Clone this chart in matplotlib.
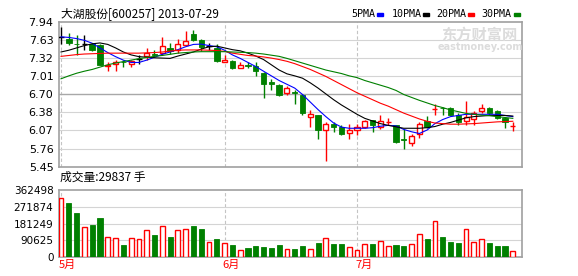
import matplotlib
matplotlib.use('Agg')
import matplotlib.pyplot as plt
import matplotlib.transforms as mtransforms
from matplotlib.patches import Rectangle
import numpy as np

CJK = ['Noto Sans CJK SC', 'DejaVu Sans']

title = '大湖股份[600257] 2013-07-29'
vol_title = '成交量:29837 手'

# daily candles, 2013-05-02 .. 2013-07-29
opens = [7.67, 7.65, 7.56, 7.56, 7.55, 7.54, 7.18, 7.22, 7.25, 7.21,
         7.30, 7.345, 7.385, 7.40, 7.49, 7.455, 7.54, 7.725, 7.63, 7.52,
         7.48, 7.24, 7.27, 7.14, 7.19, 7.18, 7.06, 6.91, 6.85, 6.72,
         6.74, 6.68, 6.30, 6.34, 6.08, 6.18, 6.14, 6.025, 6.08, 6.125,
         6.25, 6.125, 6.215, 6.17, 5.92, 5.85, 6.01, 6.235, 6.435, 6.465,
         6.45, 6.34, 6.235, 6.265, 6.405, 6.45, 6.40, 6.28, 6.15]
closes = [7.67, 7.58, 7.55, 7.56, 7.45, 7.19, 7.19, 7.24, 7.24, 7.26,
          7.30, 7.41, 7.375, 7.52, 7.43, 7.555, 7.60, 7.63, 7.50, 7.52,
          7.27, 7.28, 7.15, 7.19, 7.185, 7.10, 6.87, 6.865, 6.68, 6.80,
          6.72, 6.38, 6.355, 6.08, 6.18, 6.14, 6.02, 6.075, 6.125, 6.24,
          6.17, 6.24, 6.225, 5.88, 5.91, 5.98, 6.175, 6.14, 6.445, 6.455,
          6.34, 6.22, 6.31, 6.375, 6.46, 6.365, 6.28, 6.22, 6.155]
highs = [7.85, 7.75, 7.71, 7.71, 7.57, 7.56, 7.24, 7.28, 7.28, 7.28,
         7.36, 7.49, 7.45, 7.68, 7.58, 7.65, 7.78, 7.79, 7.64, 7.58,
         7.56, 7.37, 7.28, 7.24, 7.24, 7.24, 7.07, 6.96, 6.87, 6.83,
         6.76, 6.69, 6.42, 6.34, 6.22, 6.21, 6.17, 6.18, 6.18, 6.26,
         6.25, 6.34, 6.29, 6.17, 6.10, 6.01, 6.22, 6.32, 6.52, 6.47,
         6.47, 6.38, 6.58, 6.40, 6.52, 6.48, 6.42, 6.31, 6.22]
lows = [7.56, 7.54, 7.37, 7.46, 7.43, 7.19, 7.10, 7.10, 7.16, 7.16,
        7.22, 7.29, 7.33, 7.36, 7.39, 7.40, 7.54, 7.60, 7.43, 7.45,
        7.24, 7.24, 7.13, 7.14, 7.14, 7.00, 6.63, 6.77, 6.67, 6.68,
        6.53, 6.33, 6.14, 5.93, 5.55, 6.04, 6.00, 5.93, 6.00, 6.11,
        6.05, 6.09, 6.17, 5.86, 5.75, 5.81, 5.95, 6.12, 6.34, 6.34,
        6.33, 6.17, 6.17, 6.17, 6.37, 6.34, 6.27, 6.12, 6.06]
volumes = [317600, 292000, 238000, 161000, 173000, 211000, 107000, 101000, 65000, 101000,
           95000, 146000, 119000, 169000, 108000, 144000, 150000, 168000, 151000, 80000,
           97000, 74000, 65000, 36000, 49000, 60000, 54000, 49000, 65000, 43000,
           43000, 60000, 43000, 76000, 101000, 70000, 70000, 54000, 38000, 70000,
           70000, 87000, 60000, 65000, 60000, 70000, 124000, 97000, 195000, 108000,
           81000, 76000, 151000, 81000, 97000, 76000, 60000, 60000, 29837]

ma5 = [7.68, 7.67, 7.65, 7.62, 7.57, 7.49, 7.41, 7.34, 7.28, 7.24,
       7.24, 7.28, 7.33, 7.38, 7.42, 7.46, 7.51, 7.55, 7.555, 7.53,
       7.51, 7.45, 7.37, 7.31, 7.24, 7.17, 7.09, 7.01, 6.93, 6.865,
       6.80, 6.69, 6.56, 6.43, 6.31, 6.20, 6.13, 6.11, 6.11, 6.11,
       6.12, 6.145, 6.16, 6.15, 6.09, 6.05, 6.02, 6.08, 6.19, 6.26,
       6.31, 6.33, 6.35, 6.35, 6.35, 6.35, 6.35, 6.33, 6.31]
ma10 = [7.42, 7.45, 7.49, 7.53, 7.56, 7.575, 7.55, 7.49, 7.42, 7.37,
        7.34, 7.33, 7.32, 7.315, 7.31, 7.35, 7.385, 7.42, 7.47, 7.51,
        7.52, 7.49, 7.46, 7.44, 7.40, 7.35, 7.29, 7.20, 7.11, 7.045,
        7.01, 6.97, 6.89, 6.80, 6.70, 6.60, 6.51, 6.43, 6.35, 6.28,
        6.235, 6.19, 6.16, 6.135, 6.11, 6.11, 6.11, 6.12, 6.14, 6.18,
        6.21, 6.25, 6.29, 6.31, 6.32, 6.33, 6.33, 6.33, 6.32]
ma20 = [7.345, 7.36, 7.375, 7.385, 7.39, 7.395, 7.40, 7.40, 7.40, 7.40,
        7.40, 7.405, 7.41, 7.42, 7.435, 7.45, 7.455, 7.455, 7.455, 7.45,
        7.445, 7.43, 7.40, 7.38, 7.36, 7.35, 7.335, 7.315, 7.29, 7.26,
        7.22, 7.17, 7.12, 7.06, 7.00, 6.93, 6.86, 6.79, 6.72, 6.66,
        6.60, 6.54, 6.49, 6.43, 6.37, 6.32, 6.27, 6.23, 6.20, 6.19,
        6.18, 6.18, 6.185, 6.19, 6.20, 6.21, 6.22, 6.225, 6.23]
ma30 = [6.96, 7.01, 7.055, 7.09, 7.12, 7.16, 7.20, 7.23, 7.255, 7.28,
        7.305, 7.325, 7.345, 7.36, 7.38, 7.40, 7.41, 7.42, 7.425, 7.425,
        7.425, 7.425, 7.42, 7.415, 7.41, 7.40, 7.385, 7.365, 7.345, 7.31,
        7.27, 7.23, 7.19, 7.15, 7.11, 7.08, 7.05, 7.01, 6.98, 6.93,
        6.89, 6.85, 6.81, 6.76, 6.69, 6.64, 6.59, 6.545, 6.50, 6.465,
        6.425, 6.395, 6.365, 6.35, 6.335, 6.325, 6.31, 6.295, 6.28]

month_idx = [0, 21, 38]
month_labels = ['5月', '6月', '7月']

price_ticks = np.linspace(5.45, 7.94, 9)
vol_ticks = [0, 90625, 181249, 271874, 362498]

ma_names = ['5PMA', '10PMA', '20PMA', '30PMA']
ma_colors = ['#0000ff', '#000000', '#ff0000', '#008000']

RED = '#ff0000'
GREEN = '#008000'
FRAME = '#a0a0a0'

W, H = 578, 276
fig = plt.figure(figsize=(W / 100, H / 100), dpi=100)


def box(l, t, r, b):
    return fig.add_axes([l / W, 1 - b / H, (r - l) / W, (b - t) / H])


ax = box(59, 21.7, 522, 166.7)
axv = box(59, 190, 522, 257)

n = len(closes)
x = np.arange(n)
o = np.array(opens)
c = np.array(closes)
hi = np.array(highs)
lo = np.array(lows)

for a in (ax, axv):
    a.set_xlim(-0.26, 59.18)
    a.set_xticks([])
    for s in a.spines.values():
        s.set_color(FRAME)
        s.set_linewidth(1.2)
    a.tick_params(axis='y', length=0, pad=4, labelsize=8, labelcolor='black')
    for i in month_idx:
        a.axvline(i, color='#c4c4c4', lw=0.8, ls=(0, (3, 2)), zorder=0)

# price panel
ax.set_ylim(price_ticks[0], price_ticks[-1])
ax.set_yticks(price_ticks)
ax.set_yticklabels(['%.2f' % v for v in price_ticks])
for k, v in enumerate(price_ticks[1:-1], 1):
    ax.axhline(v, color='#a8a8a8' if k == 4 else '#d4d4d4', lw=1.0 if k == 4 else 0.8, zorder=0)

up = c > o
flat = c == o
down = c < o

ax.vlines(x[up], lo[up], hi[up], color=RED, lw=1, zorder=2)
ax.vlines(x[down], lo[down], hi[down], color=GREEN, lw=1, zorder=2)
ax.vlines(x[flat], lo[flat], hi[flat], color='black', lw=1, zorder=2)

ax.bar(x[up], (c - o)[up], bottom=o[up], width=0.66, facecolor='white',
       edgecolor=RED, lw=1, zorder=3)
ax.bar(x[down], (o - c)[down], bottom=c[down], width=0.7, facecolor=GREEN,
       edgecolor=GREEN, lw=0.6, zorder=3)
ax.hlines(c[flat], x[flat] - 0.35, x[flat] + 0.35, color='black', lw=1, zorder=3)

for vals, col in zip([ma5, ma10, ma20, ma30], ma_colors):
    ax.plot(x, vals, color=col, lw=0.8, zorder=4)

# volume panel
vol = np.array(volumes)
vup = c >= o
axv.set_ylim(0, vol_ticks[-1])
axv.set_yticks(vol_ticks)
axv.set_yticklabels([str(v) for v in vol_ticks])
axv.tick_params(axis='y', labelsize=7.5)
for v in vol_ticks[1:-1]:
    axv.axhline(v, color='#d4d4d4', lw=0.8, zorder=0)
axv.bar(x[vup], vol[vup], width=0.62, facecolor='white', edgecolor=RED, lw=1, zorder=3)
axv.bar(x[~vup], vol[~vup], width=0.66, facecolor=GREEN, edgecolor=GREEN, lw=0.6, zorder=3)

trans = mtransforms.blended_transform_factory(axv.transData, axv.transAxes)
for i, lab in zip(month_idx, month_labels):
    axv.text(i - 0.25, -0.05, lab, transform=trans, ha='left', va='top',
             color=RED, fontsize=8, family=CJK)

# texts
fig.text(61 / W, 1 - 14 / H, title, va='center', ha='left', fontsize=8.5, family=CJK)
fig.text(60 / W, 1 - 177 / H, vol_title, va='center', ha='left', fontsize=8.5, family=CJK)

leg_x = [351, 392, 436, 481]
leg_dash = [377, 423, 468, 514]
for lx, dx, name, col in zip(leg_x, leg_dash, ma_names, ma_colors):
    fig.text(lx / W, 1 - 14 / H, name, va='center', ha='left', fontsize=7.2,
             family='DejaVu Sans Mono')
    fig.patches.append(Rectangle((dx / W, (H - 15.5) / H), 6 / W, 2.5 / H,
                                 transform=fig.transFigure, color=col))

fig.text(479 / W, 1 - 35 / H, '东方财富网', va='center', ha='center', fontsize=11,
         weight='bold', color='#dcdcdc', family=CJK, zorder=1)
fig.text(480 / W, 1 - 47 / H, 'eastmoney.com', va='center', ha='center', fontsize=7,
         weight='bold', color='#dcdcdc', zorder=1)

fig.savefig('out.png', dpi=100)
